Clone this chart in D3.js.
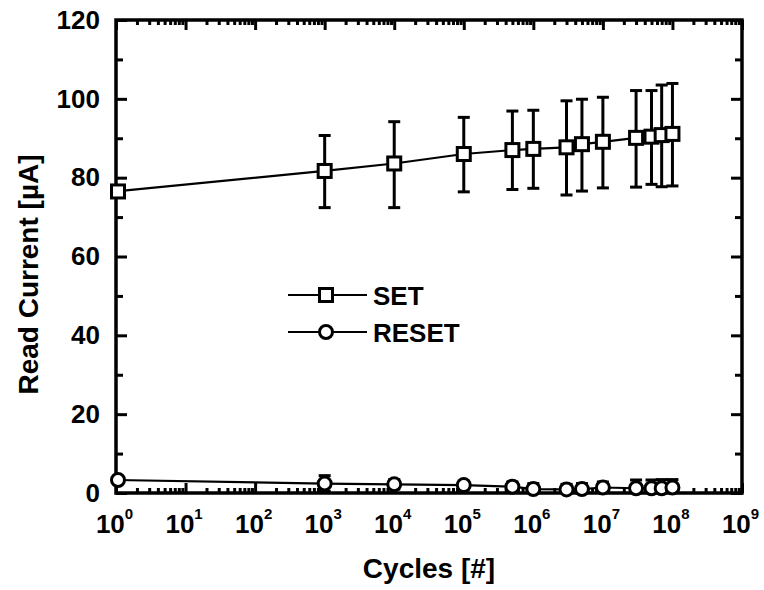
<!DOCTYPE html>
<html lang="en">
<head>
<meta charset="UTF-8">
<title>Read Current vs Cycles</title>
<script src="https://d3js.org/d3.v7.min.js"></script>
<style>
  body { margin: 0; background: #fff; }
  svg { display: block; font-family: "Liberation Sans", Arial, sans-serif; font-weight: bold; }
  .axis path { display: none; }
  .axis line { stroke: #000; stroke-width: 3; }
  .axis text { font-family: "Liberation Sans", Arial, sans-serif; font-weight: bold; font-size: 26px; fill: #000; }
</style>
</head>
<body>
<svg id="chart"></svg>
<script>
// data
const cycles = [1, 1e3, 1e4, 1e5, 5e5, 1e6, 3e6, 5e6, 1e7, 3e7, 5e7, 7e7, 1e8];
const setMean = [76.5, 81.7, 83.6, 86.0, 87.0, 87.3, 87.7, 88.5, 89.1, 90.1, 90.4, 90.8, 91.1];
const setHigh = [null, 90.7, 94.2, 95.3, 96.9, 97.1, 99.5, 99.9, 100.4, 102.1, 102.1, 103.5, 103.9];
const setLow = [null, 72.4, 72.4, 76.4, 77.0, 77.3, 75.6, 76.6, 77.4, 77.6, 78.3, 77.7, 77.9];
const resetMean = [3.3, 2.4, 2.2, 2.0, 1.6, 1.0, 0.9, 1.0, 1.4, 1.2, 1.2, 1.2, 1.4];
const resetHigh = [null, 4.4, 3.4, 3.0, 2.8, 2.4, 2.2, 2.4, 2.8, 3.3, 3.3, 3.4, 3.4];
const resetLow = [null, 0.4, 1.0, 1.0, 0.5, 0.2, 0.2, 0.2, 0.3, 0.2, 0.2, 0.2, 0.3];

const decades = d3.range(0, 10).map(e => Math.pow(10, e));
const yMajor = [0, 20, 40, 60, 80, 100, 120];
const yMinor = [10, 30, 50, 70, 90, 110];
const legendNames = ["SET", "RESET"];

const width = 764, height = 590;
const mLeft = 116, mRight = 742, mTop = 20, mBottom = 493;

const svg = d3.select("#chart").attr("width", width).attr("height", height);

const x = d3.scaleLog().domain([1, 1e9]).range([mLeft, mRight]);
const y = d3.scaleLinear().domain([0, 120]).range([mBottom, mTop]);

const xMinor = [];
decades.slice(0, -1).forEach(d => { for (let k = 2; k <= 9; k++) xMinor.push(d * k); });

// axes (ticks pointing inward)
svg.append("g").attr("class", "axis").attr("transform", `translate(${mLeft},0)`)
    .call(d3.axisLeft(y).tickValues(yMajor).tickSize(-11).tickPadding(16));
svg.append("g").attr("class", "axis").attr("transform", `translate(${mLeft},0)`)
    .call(d3.axisLeft(y).tickValues(yMinor).tickSize(-7).tickFormat(""));
svg.append("g").attr("class", "axis").attr("transform", `translate(${mRight},0)`)
    .call(d3.axisRight(y).tickValues(yMajor).tickSize(-11).tickFormat(""));
svg.append("g").attr("class", "axis").attr("transform", `translate(${mRight},0)`)
    .call(d3.axisRight(y).tickValues(yMinor).tickSize(-7).tickFormat(""));

const xb = svg.append("g").attr("class", "axis").attr("transform", `translate(0,${mBottom})`)
    .call(d3.axisBottom(x).tickValues(decades).tickSize(-10).tickFormat(""));
svg.append("g").attr("class", "axis").attr("transform", `translate(0,${mBottom})`)
    .call(d3.axisBottom(x).tickValues(xMinor).tickSize(-5).tickFormat(""));
svg.append("g").attr("class", "axis").attr("transform", `translate(0,${mTop})`)
    .call(d3.axisTop(x).tickValues(decades).tickSize(-10).tickFormat(""));
svg.append("g").attr("class", "axis").attr("transform", `translate(0,${mTop})`)
    .call(d3.axisTop(x).tickValues(xMinor).tickSize(-5).tickFormat(""));

// 10^n labels
xb.selectAll(".tick").each(function(d) {
  const t = d3.select(this).append("text")
      .attr("x", -2).attr("y", 40)
      .attr("text-anchor", "middle");
  t.append("tspan").text("10");
  t.append("tspan").attr("dy", -14).attr("font-size", 15).text(Math.round(Math.log10(d)));
});

// frame
svg.append("rect")
    .attr("x", mLeft).attr("y", mTop)
    .attr("width", mRight - mLeft).attr("height", mBottom - mTop)
    .attr("fill", "none").attr("stroke", "#000").attr("stroke-width", 3.5);

// axis titles
svg.append("text")
    .attr("transform", `translate(38,${(mTop + mBottom) / 2 + 18}) rotate(-90)`)
    .attr("text-anchor", "middle").attr("font-size", 28)
    .text("Read Current [\u00b5A]");
svg.append("text")
    .attr("x", (mLeft + mRight) / 2).attr("y", 578)
    .attr("text-anchor", "middle").attr("font-size", 28)
    .text("Cycles [#]");

function drawSeries(mean, lo, hi, marker) {
  const pts = cycles.map((c, i) => ({ c, v: mean[i], lo: lo[i], hi: hi[i] }));
  const g = svg.append("g");
  g.append("path")
      .datum(pts)
      .attr("fill", "none").attr("stroke", "#000").attr("stroke-width", 2.2)
      .attr("d", d3.line().x(d => x(d.c)).y(d => y(d.v)));
  const eb = g.selectAll(".eb").data(pts.filter(d => d.hi != null)).join("g")
      .attr("stroke", "#000").attr("stroke-width", 3);
  eb.append("line").attr("x1", d => x(d.c)).attr("x2", d => x(d.c))
      .attr("y1", d => y(d.lo)).attr("y2", d => y(d.hi));
  eb.append("line").attr("x1", d => x(d.c) - 6).attr("x2", d => x(d.c) + 6)
      .attr("y1", d => y(d.hi)).attr("y2", d => y(d.hi));
  eb.append("line").attr("x1", d => x(d.c) - 6).attr("x2", d => x(d.c) + 6)
      .attr("y1", d => y(d.lo)).attr("y2", d => y(d.lo));
  pts.forEach(d => marker(g, x(d.c) + (d.c === 1 ? 2 : 0), y(d.v)));
}

function square(g, cx, cy) {
  g.append("rect").attr("x", cx - 6.5).attr("y", cy - 6.5).attr("width", 13).attr("height", 13)
      .attr("fill", "#fff").attr("stroke", "#000").attr("stroke-width", 3);
}
function circle(g, cx, cy) {
  g.append("circle").attr("cx", cx).attr("cy", cy).attr("r", 6.5)
      .attr("fill", "#fff").attr("stroke", "#000").attr("stroke-width", 3);
}

drawSeries(setMean, setLow, setHigh, square);
drawSeries(resetMean, resetLow, resetHigh, circle);

// legend
const legend = svg.append("g");
[square, circle].forEach((m, i) => {
  const ly = 295 + i * 37;
  legend.append("line").attr("x1", 288).attr("x2", 367).attr("y1", ly).attr("y2", ly)
      .attr("stroke", "#000").attr("stroke-width", 2.2);
  m(legend, 326, ly);
  legend.append("text").attr("x", 373).attr("y", ly + 10)
      .attr("font-size", 26).text(legendNames[i]);
});
</script>
</body>
</html>
